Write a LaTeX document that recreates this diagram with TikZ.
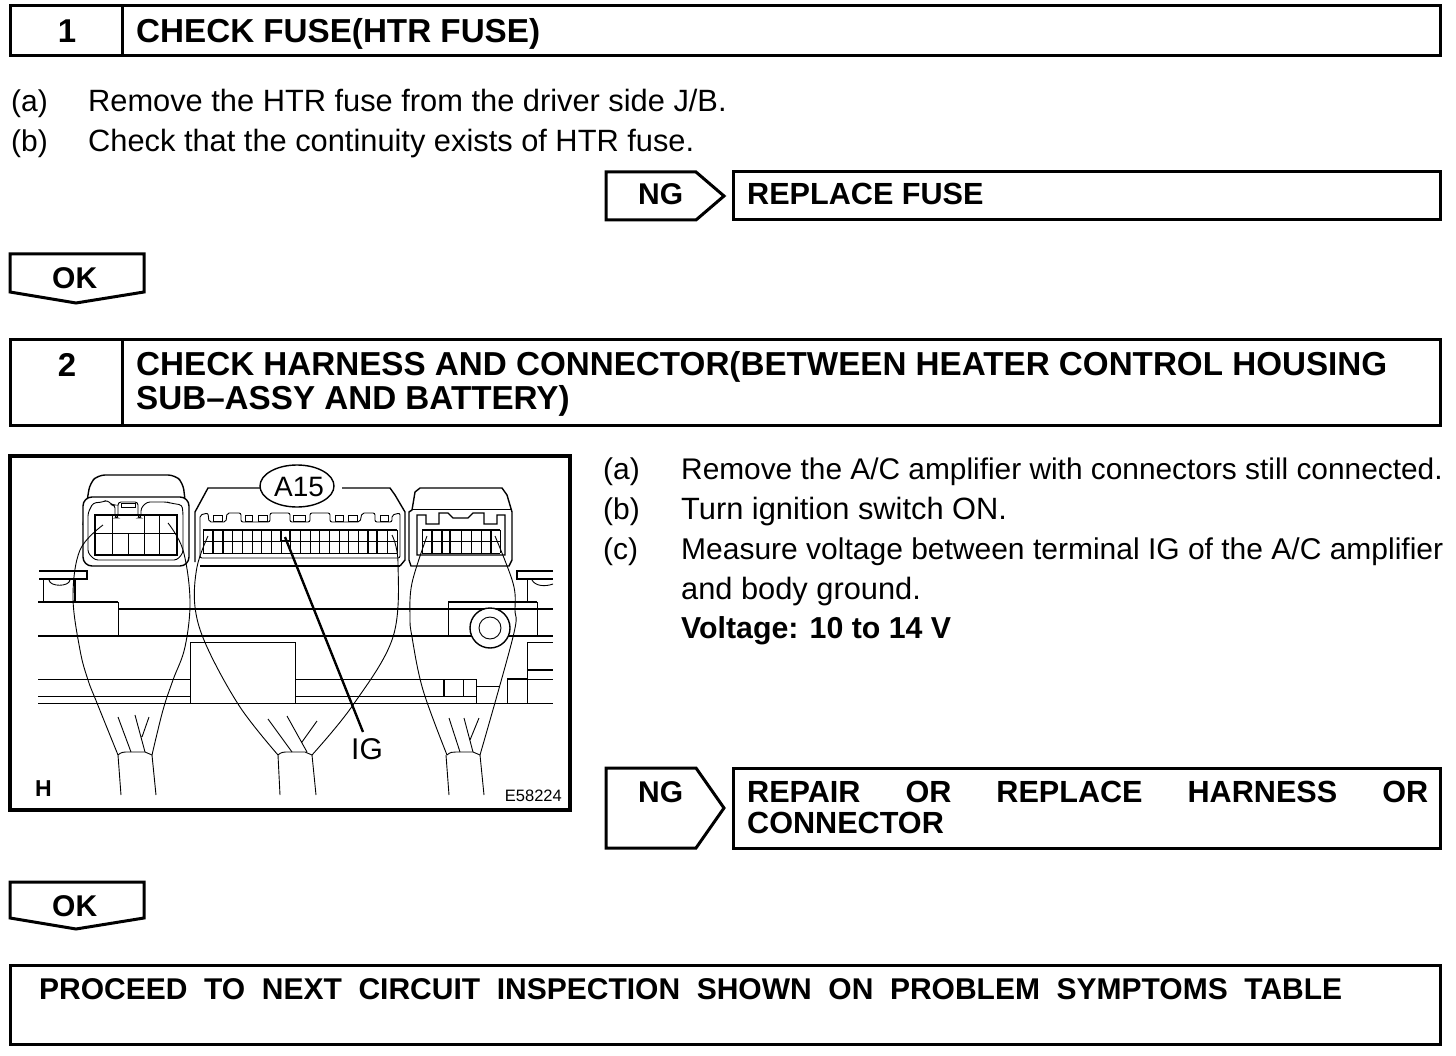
\documentclass[tikz,border=0pt]{standalone}
\usepackage{fontspec}
\usetikzlibrary{shapes.geometric}
\setmainfont{Liberation Sans}
\newcommand{\bodyf}{\fontsize{30.8}{36}\selectfont}
\newcommand{\bodyg}{\fontsize{30}{36}\selectfont}
\newcommand{\headf}{\fontsize{33.2}{36}\selectfont\bfseries}
\newcommand{\boxf}{\fontsize{30.6}{36}\selectfont\bfseries}
\newcommand{\tagf}{\fontsize{30}{36}\selectfont\bfseries}
\tikzset{
 box/.style={line width=3pt,draw=black,fill=white,line join=miter},
 body/.style={anchor=base west,inner sep=0pt,font=\bodyf},
 bodyn/.style={anchor=base west,inner sep=0pt,font=\bodyg},
 head/.style={anchor=base west,inner sep=0pt,font=\headf},
 lab/.style={anchor=base west,inner sep=0pt,font=\boxf},
 tag/.style={anchor=base west,inner sep=0pt,font=\tagf},
 num/.style={anchor=base,inner sep=0pt,font=\fontsize{33}{36}\selectfont\bfseries},
 wire/.style={line width=0.9pt},
 thn/.style={line width=0.9pt},
 mid/.style={line width=1.4pt},
 thk/.style={line width=2pt},
}
\begin{document}
\begin{tikzpicture}[x=1pt,y=-1pt]
\useasboundingbox (0,0) rectangle (1456,1056);
% step 1
\draw[box] (10,6) rectangle (1440,56);
\draw[box] (122,6) -- (122,56);
\node[num] (n1) at (67,43) {1};
\node[head] (t1) at (136,43) {CHECK FUSE(HTR FUSE)};
\node[bodyn] (a1) at (11,112) {(a)};
\node[body] (a1t) at (88,112) {Remove the HTR fuse from the driver side J/B.};
\node[bodyn] (b1) at (11,152) {(b)};
\node[body] (b1t) at (88,152) {Check that the continuity exists of HTR fuse.};
\draw[box] (606,172) -- (696,172) -- (724,196) -- (696,220) -- (606,220) -- cycle;
\node[tag] (ng1) at (638,205) {NG};
\draw[box] (733,172) rectangle (1440,220);
\node[lab] (r1) at (747,205) {REPLACE FUSE};
\draw[box] (10,254) -- (144,254) -- (144,292) -- (76,303) -- (10,292) -- cycle;
\node[tag] (ok1) at (52,289) {OK};
% step 2
\draw[box] (10,340) rectangle (1440,425);
\draw[box] (122,340) -- (122,425);
\node[num] (n2) at (67,377) {2};
\node[head] (t2) at (136,376) {CHECK HARNESS AND CONNECTOR(BETWEEN HEATER CONTROL HOUSING};
\node[head] (t2b) at (136,409) {SUB--ASSY AND BATTERY)};
% instructions
\node[bodyn] (a2) at (603,479) {(a)};
\node[bodyn] (a2t) at (681,479) {\fontsize{29.85}{36}\selectfont Remove the A/C amplifier with connectors still connected.};
\node[bodyn] (b2) at (603,519) {(b)};
\node[body] (b2t) at (681,519) {Turn ignition switch ON.};
\node[bodyn] (c2) at (603,559) {(c)};
\node[bodyn] (c2t) at (681,559) {\fontsize{30}{36}\selectfont Measure voltage between terminal IG of the A/C amplifier};
\node[body] (c2u) at (681,599) {and body ground.};
\node[bodyn,font=\fontsize{30.3}{36}\selectfont\bfseries] (c2v) at (681,638) {Voltage: 10 to 14 V};
\draw[box] (606,768) -- (696,768) -- (724,808) -- (696,848) -- (606,848) -- cycle;
\node[tag] (ng2) at (638,802) {NG};
\draw[box] (733,768) rectangle (1440,848);
\node[lab] (r2) at (747,802) {\hbox to 681pt{REPAIR\hfill OR\hfill REPLACE\hfill HARNESS\hfill OR}};
\node[lab] (r2b) at (747,833) {CONNECTOR};
\draw[box] (10,882) -- (144,882) -- (144,918) -- (76,929) -- (10,918) -- cycle;
\node[tag] (ok2) at (52,916) {OK};
\draw[box] (10,965) rectangle (1440,1044);
\node[tag] (p) at (39,999) {\hbox to 1303pt{PROCEED\hfill TO\hfill NEXT\hfill CIRCUIT\hfill INSPECTION\hfill SHOWN\hfill ON\hfill PROBLEM\hfill SYMPTOMS\hfill TABLE}};
% figure frame
\draw[line width=4pt] (10,456) rectangle (570,810);
% background structure
\draw[mid] (118,609) -- (553,609);
\draw[mid] (38,636) -- (553,636);
\draw[thn] (38,679) -- (190,679) (295,679) -- (476,679);
\draw[thn] (38,696) -- (190,696) (295,696) -- (476,696);
\draw[thn] (38,703) -- (553,703);
\draw[thn] (190,642) rectangle (295,703);
\draw[thk] (444,679) -- (444,696);
\draw[thn] (463,679) -- (463,696) (476,679) -- (476,703) (476,686) -- (500,686);
\draw[mid] (507,679) -- (527,679);
\draw[thn] (527,679) -- (553,679) (507,679) -- (507,703) (527,642) -- (527,703) (527,642) -- (553,642);
\draw[mid] (527,670) -- (553,670);
\draw[mid] (39,571) -- (87,571) -- (87,579) -- (39,579);
\draw[thn] (43,579) -- (43,602);
\draw[mid] (38,602) -- (118,602);
\draw[thk] (75,579) -- (75,602);
\draw[thn] (118,602) -- (118,636);
\draw[thn] (49,580) .. controls (50,587) and (69,587) .. (70,580);
\draw[mid] (553,571) -- (517,571) -- (517,579) -- (553,579);
\draw[thn] (527,579) -- (527,602);
\draw[mid] (448,602) -- (537,602);
\draw[thn] (448,602) -- (448,636) (537,602) -- (537,636);
\draw[thn] (532,580) .. controls (535,586) and (545,587) .. (553,584);
\draw[mid,fill=white] (490,628) circle[radius=20];
\draw[thn] (490,628) circle[radius=11];
% left connector
\draw[mid,rounded corners=7pt] (83,525) -- (90,483) -- (98,475) -- (175,475) -- (183,483) -- (188,525);
\draw[mid,fill=white,rounded corners=9pt] (83,497) rectangle (189,566);
\draw[thn,rounded corners=3pt] (88,513) -- (93,503) -- (103,502) -- (107,500) -- (112,505) -- (115,505) -- (115,518) -- (118,518) -- (118,502) -- (138,502) -- (138,518) -- (141,518) -- (141,508) -- (147,502) -- (167,502) -- (170,503) -- (182,505) -- (183,513) -- (183,553) -- (177,560) -- (95,560) -- (88,553) -- cycle;
\draw[thn] (121,503) rectangle (135,507);
\draw[mid] (95,515) rectangle (177,555);
\draw[thn] (95,533) -- (177,533);
\draw[thn] (112,515) -- (112,555) (128,533) -- (128,555) (144,515) -- (144,555) (159,515) -- (159,555);
% middle connector
\draw[mid] (195,562) -- (195,512) -- (208,488) -- (262,488);
\draw[mid] (342,488) -- (390,488) -- (395,495) -- (405,512) -- (405,560) -- (400,566);
\draw[mid] (200,566) -- (400,566);
\draw[thn,rounded corners=2pt] (200,558) -- (200,515) -- (208,513) -- (209,522) -- (226,522) -- (227,513) -- (241,513) -- (241,522) -- (270,522) -- (270,513) -- (290,513) -- (290,522) -- (310,522) -- (310,513) -- (330,513) -- (330,522) -- (360,522) -- (362,513) -- (375,513) -- (375,522) -- (392,522) -- (392,515) -- (400,513) -- (400,558) -- cycle;
\draw[thn] (213,515) rectangle (222,521) (245,515) rectangle (252,521) (258,515) rectangle (267,521) (293,515) rectangle (305,521) (335,515) rectangle (343,521) (348,515) rectangle (357,521) (380,515) rectangle (388,521);
\draw[mid] (203,530) -- (397,530);
\draw[thn] (203,553) -- (397,553) (203,541) -- (397,541);
\foreach \x in {203,232.4,242,252,261.4,271,281,290,300,310,319,329,339,348,358,387,397}
  \draw[thn] (\x,530) -- (\x,553);
\foreach \x in {213,223,368,377}
  \draw[thk] (\x,530) -- (\x,553);
\draw[thk] (281,530) rectangle (290,541);
\node[draw,line width=1.4pt,fill=white,ellipse,inner sep=0pt,minimum width=74pt,minimum height=42pt] (el) at (297,486) {};
\node[anchor=base,inner sep=0pt,font=\fontsize{28}{30}\selectfont] (a15) at (299,496) {A15};
% right connector
\draw[mid] (409,560) -- (409,512) -- (412,510) -- (415,492) -- (420,488) -- (502,488) -- (507,495) -- (512,512) -- (512,560) -- (509,566) -- (411,566) -- cycle;
\draw[thn] (412,509) -- (511,509);
\draw[mid] (417,555) -- (417,515) -- (426,515) -- (426,524) -- (439,524) -- (439,513) -- (448,513) -- (453,518) -- (468,518) -- (473,513) -- (484,513) -- (484,524) -- (497,524) -- (497,515) -- (505,515) -- (505,555) -- cycle;
\draw[mid] (422,530) -- (500,530);
\draw[thn] (422,553) -- (500,553) (422,541) -- (500,541);
\foreach \x in {422,461,471,481,500}
  \draw[thn] (\x,530) -- (\x,553);
\foreach \x in {432,442,450,491}
  \draw[thk] (\x,530) -- (\x,553);
% wires
\draw[wire] plot[smooth,tension=0.6] coordinates {(103,525) (80,550) (73,597) (80,650) (88,680) (97,703) (118,755)};
\draw[wire] plot[smooth,tension=0.6] coordinates {(168,523) (183,550) (190,600) (185,647) (173,680) (163,710) (152,755)};
\draw[wire] (118,755) .. controls (121,752) and (124,752) .. (128,752) -- (145,752) -- (152,755) (118,755) -- (121,795) (152,755) -- (156,795);
\draw[wire] (118,717) -- (131,752) (135,715) -- (145,752) (149,717) -- (142,737);
\draw[wire] plot[smooth,tension=0.6] coordinates {(208,536) (197,567) (195,607) (207,647) (240,707) (278,755)};
\draw[wire] plot[smooth,tension=0.6] coordinates {(392,535) (398,563) (393,637) (353,705) (312,755)};
\draw[wire] (278,755) .. controls (281,752) and (284,752) .. (288,752) -- (305,752) -- (312,755) (278,755) -- (280,795) (312,755) -- (316,795);
\draw[wire] (268,719) -- (292,752) (287,716) -- (307,752) (317,721) -- (302,742);
\draw[wire] plot[smooth,tension=0.6] coordinates {(427,536) (412,583) (410,617) (412,637) (423,690) (447,755)};
\draw[wire] plot[smooth,tension=0.6] coordinates {(495,536) (513,583) (515,610) (513,637) (480,755)};
\draw[wire] (447,755) .. controls (450,752) and (453,752) .. (456,752) -- (473,752) -- (480,755) (446,755) -- (449,795) (480,755) -- (484,795);
\draw[wire] (449,718) -- (460,752) (464,718) -- (473,752) (479,718) -- (470,740);
% IG leader
\coordinate (igs) at (285,537);
\node[anchor=base west,inner sep=0pt,font=\fontsize{30}{32}\selectfont] (ig) at (351,759) {IG};
\draw[line width=2.4pt] (igs) -- (363,732);
\node[anchor=base west,inner sep=0pt,font=\fontsize{23}{24}\selectfont\bfseries] (h) at (35,796) {H};
\node[anchor=base east,inner sep=0pt,font=\fontsize{16.5}{19}\selectfont] (e) at (562,801) {E58224};
\end{tikzpicture}
\end{document}
